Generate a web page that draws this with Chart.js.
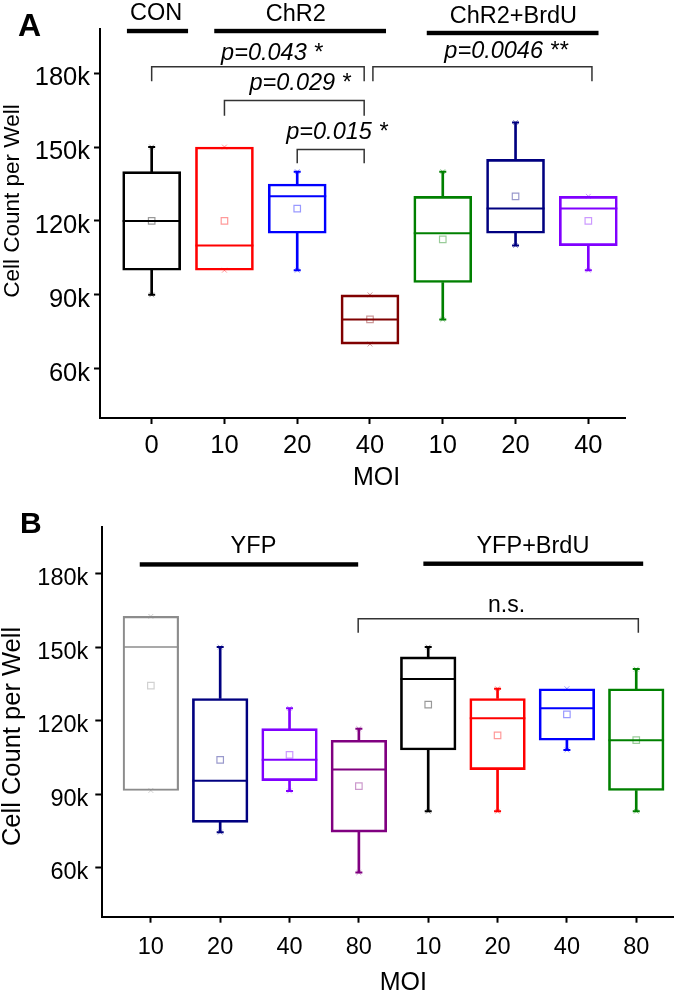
<!DOCTYPE html>
<html><head><meta charset="utf-8">
<script src="https://cdn.jsdelivr.net/npm/chart.js@4/dist/chart.umd.min.js"></script>
<style>
html,body{margin:0;padding:0;background:#fff;}
#wrap{position:relative;width:675px;height:993px;overflow:hidden;background:#fff;}
canvas{position:absolute;left:0;display:block;}
#cA{top:0;} #cB{top:495px;}
</style></head><body>
<div id="wrap"><canvas id="cA" width="675" height="495"></canvas><canvas id="cB" width="675" height="498"></canvas></div>
<script>
// ---------- Panel A data (cell count per well, thousands) ----------
const catsA   = ['0','10','20','40','10','20','40'];
const minA    = [90, 100, 100, 70, 80, 110, 100];
const q1A     = [100, 100, 115, 70, 95, 115, 110];
const medA    = [120, 110, 130, 80, 115, 125, 125];
const q3A     = [140, 150, 135, 90, 130, 145, 130];
const maxA    = [150, 150, 140, 90, 140, 160, 130];
const meanA   = [120, 120, 125, 80, 112.5, 130, 120];
const colorsA = ['#000000','#ff0000','#0000ff','#800000','#008000','#000080','#8000ff'];
const lineWA  = [2, 2, 2, 2, 2, 2, 2];

// ---------- Panel B data ----------
const catsB   = ['10','20','40','80','10','20','40','80'];
const minB    = [91.5, 74.5, 91.3, 58, 83, 83, 108, 83];
const q1B     = [91.5, 78.5, 95.5, 74.5, 108, 100, 112, 91.5];
const medB    = [150, 95.5, 104, 100, 137, 121, 125, 112];
const q3B     = [162.5, 129, 116.7, 112, 146, 129, 133, 133];
const maxB    = [162.5, 150, 125, 116.7, 150, 133, 133, 141];
const meanB   = [134.3, 104, 106, 93.3, 126.5, 114, 122.5, 112];
const colorsB = ['#8c8c8c','#000080','#8000ff','#800080','#000000','#ff0000','#0000ff','#008000'];
const lineWB  = [1.5, 2, 2, 2, 2, 2, 2, 2];

const yTicks = [60, 90, 120, 150, 180];
const yTickLabels = ['60k','90k','120k','150k','180k'];

// ---------- Annotations (group headers, significance brackets) ----------
const groupLabelsA = ['CON','ChR2','ChR2+BrdU'];
const groupTextXA  = [0.06, 1.98, 4.97];
const groupTextYA  = [201.5, 201.3, 200.2];
const groupBarFromA = [-0.34, 0.86, 3.78];
const groupBarToA   = [0.50, 3.22, 6.14];
const groupBarYA    = [197.1, 197.1, 196.3];
const pTextA   = ['p=0.043 *','p=0.029 *','p=0.015 *','p=0.0046 **'];
const pTextXA  = [1.65, 2.04, 2.545, 4.87];
const pTextYA  = [185.3, 173.1, 153.4, 186.0];
const brFromA  = [0, 1, 2, 3.04];
const brToA    = [2.92, 2.92, 2.92, 6.05];
const brTopA   = [182.6, 168.9, 149.0, 182.6];
const brLegA   = [176.7, 162.7, 143.4, 176.7];

const groupLabelsB = ['YFP','YFP+BrdU'];
const groupTextXB  = [1.48, 5.51];
const groupTextYB  = [188.5, 188.3];
const groupBarFromB = [-0.16, 3.93];
const groupBarToB   = [2.99, 7.10];
const groupBarYB    = [183.7, 184.0];
const pTextB  = ['n.s.'];
const pTextXB = [5.13];
const pTextYB = [164.5];
const brFromB = [2.99];
const brToB   = [7.03];
const brTopB  = [161.5];
const brLegB  = [155.8];

const FF = "'Liberation Sans', Arial, Helvetica, sans-serif";

function hexA(h, a){
  const n = parseInt(h.slice(1),16);
  return `rgba(${(n>>16)&255},${(n>>8)&255},${n&255},${a})`;
}

function boxDatasets(mins,q1s,meds,q3s,maxs,means,colors,lineW,boxW){
  const idx = mins.map((_,i)=>i);
  const light = colors.map(c=>hexA(c,0.4));
  const upI = idx.filter(i=>maxs[i]>q3s[i]);
  const loI = idx.filter(i=>mins[i]<q1s[i]);
  return [
    {type:'bar', data: idx.map(i=>({x:i,y:[q1s[i],q3s[i]]})), backgroundColor:'rgba(0,0,0,0)',
     borderColor: colors, borderWidth: lineW, borderSkipped:false, barThickness:boxW, grouped:false, order:1},
    {type:'bar', data: upI.map(i=>({x:i,y:[q3s[i],maxs[i]]})), backgroundColor: upI.map(i=>colors[i]),
     borderWidth:0, barThickness:2, grouped:false, order:2},
    {type:'bar', data: loI.map(i=>({x:i,y:[mins[i],q1s[i]]})), backgroundColor: loI.map(i=>colors[i]),
     borderWidth:0, barThickness:2, grouped:false, order:2},
    {type:'scatter', data: idx.map(i=>({x:i,y:meds[i]})), pointStyle:'line', pointRadius:boxW/2,
     pointBorderColor: colors, pointBorderWidth: lineW, pointBackgroundColor:'rgba(0,0,0,0)', order:0},
    {type:'scatter', data: upI.map(i=>({x:i,y:maxs[i]})).concat(loI.map(i=>({x:i,y:mins[i]}))),
     pointStyle:'line', pointRadius:3.5, pointBorderColor: upI.map(i=>colors[i]).concat(loI.map(i=>colors[i])),
     pointBorderWidth:2, order:0},
    {type:'scatter', data: idx.map(i=>({x:i,y:means[i]})), pointStyle:'rect', pointRadius:4.6,
     pointBorderColor: light, pointBackgroundColor:'rgba(0,0,0,0)', pointBorderWidth:1.2, order:0},
    {type:'scatter', data: idx.map(i=>({x:i,y:maxs[i]})).concat(idx.map(i=>({x:i,y:mins[i]}))),
     pointStyle:'crossRot', pointRadius:3.4, pointBorderColor: light.concat(light),
     pointBackgroundColor:'rgba(0,0,0,0)', pointBorderWidth:1, order:0}
  ];
}

function annotPlugin(c){
  return {
    id:'annot'+c.letter,
    afterDraw(chart){
      const {ctx, scales:{x,y}, chartArea} = chart;
      ctx.save();
      ctx.fillStyle = '#000';
      // panel letter
      ctx.font = `bold ${c.letterSize}px ${FF}`;
      ctx.textAlign = 'left'; ctx.textBaseline = 'alphabetic';
      ctx.fillText(c.letter, c.letterX, c.letterY);
      // group headers
      ctx.font = `${c.headSize}px ${FF}`; ctx.textAlign = 'center';
      c.groupLabels.forEach((t,i)=>{
        ctx.fillText(t, x.getPixelForValue(c.groupTextX[i]), y.getPixelForValue(c.groupTextY[i]));
        ctx.fillRect(x.getPixelForValue(c.groupBarFrom[i]), y.getPixelForValue(c.groupBarY[i]) - c.barH/2,
                     x.getPixelForValue(c.groupBarTo[i]) - x.getPixelForValue(c.groupBarFrom[i]), c.barH);
      });
      // brackets
      ctx.strokeStyle = '#333'; ctx.lineWidth = 1.5;
      c.brFrom.forEach((f,i)=>{
        const x1 = x.getPixelForValue(f), x2 = x.getPixelForValue(c.brTo[i]);
        const yt = y.getPixelForValue(c.brTop[i]), yb = y.getPixelForValue(c.brLeg[i]);
        ctx.beginPath(); ctx.moveTo(x1,yb); ctx.lineTo(x1,yt); ctx.lineTo(x2,yt); ctx.lineTo(x2,yb); ctx.stroke();
      });
      ctx.font = `${c.pItalic?'italic ':''}${c.pSize}px ${FF}`;
      c.pText.forEach((t,i)=>{
        ctx.fillText(t, x.getPixelForValue(c.pTextX[i]), y.getPixelForValue(c.pTextY[i]));
      });
      // x axis title
      ctx.font = `${c.xTitleSize}px ${FF}`;
      ctx.fillText('MOI', x.getPixelForValue(c.xTitleX), chartArea.bottom + c.xTitleDy);
      // y axis title
      ctx.save();
      ctx.translate(c.yTitleX, c.yTitleY); ctx.rotate(-Math.PI/2);
      ctx.font = `${c.yTitleSize}px ${FF}`;
      ctx.fillText('Cell Count per Well', 0, 0);
      ctx.restore();
      ctx.restore();
    }
  };
}

function makeChart(id, cats, ds, xMin, xMax, yMax, pad, yW, xH, yTick, xTick, annot){
  return new Chart(document.getElementById(id), {
    type:'bar',
    data:{ datasets: ds },
    options:{
      responsive:false, animation:false, devicePixelRatio:1, events:[],
      layout:{ padding: pad, autoPadding:false },
      plugins:{ legend:{display:false}, tooltip:{enabled:false} },
      scales:{
        x:{ type:'linear', min:xMin, max:xMax, offset:false,
            afterBuildTicks: s => { s.ticks = cats.map((_,i)=>({value:i})); },
            afterFit: s => { s.height = xH; },
            ticks:{ callback: v => cats[Math.round(v)], autoSkip:false, maxRotation:0, minRotation:0,
                    color:'#000', font:{family:FF, size:xTick.size}, padding:xTick.pad },
            grid:{ display:true, offset:false, drawOnChartArea:false, drawTicks:true, tickLength:6, tickWidth:2, tickColor:'#000' },
            border:{ display:true, color:'#000', width:2 } },
        y:{ type:'linear', min:40, max:yMax, beginAtZero:false,
            afterBuildTicks: s => { s.ticks = yTicks.map(v=>({value:v})); },
            afterFit: s => { s.width = yW; },
            ticks:{ callback: v => yTickLabels[yTicks.indexOf(v)], autoSkip:false,
                    color:'#000', font:{family:FF, size:yTick.size}, padding:yTick.pad, labelOffset:yTick.off },
            grid:{ display:true, drawOnChartArea:false, drawTicks:true, tickLength:yTick.len, tickWidth:2, tickColor:'#000' },
            border:{ display:true, color:'#000', width:2 } }
      }
    },
    plugins:[annotPlugin(annot)]
  });
}

makeChart('cA', catsA, boxDatasets(minA,q1A,medA,q3A,maxA,meanA,colorsA,lineWA,58),
  -0.71, 6.504, 197.8, {left:0, right:50, top:29.3, bottom:0}, 100, 77,
  {size:25.5, pad:4, off:5, len:6}, {size:25.5, pad:7},
  {letter:'A', letterSize:32, letterX:18, letterY:36, headSize:23.5, barH:4.4,
   groupLabels:groupLabelsA, groupTextX:groupTextXA, groupTextY:groupTextYA,
   groupBarFrom:groupBarFromA, groupBarTo:groupBarToA, groupBarY:groupBarYA,
   brFrom:brFromA, brTo:brToA, brTop:brTopA, brLeg:brLegA,
   pText:pTextA, pTextX:pTextXA, pTextY:pTextYA, pItalic:true, pSize:23.5,
   xTitleSize:25, xTitleX:3.09, xTitleDy:67, yTitleX:19, yTitleY:201, yTitleSize:22.5});

makeChart('cB', catsB, boxDatasets(minB,q1B,medB,q3B,maxB,meanB,colorsB,lineWB,55.6),
  -0.70, 7.53, 199.1, {left:0, right:2, top:31.7, bottom:0}, 102.3, 76.3,
  {size:23.5, pad:7, off:5, len:7}, {size:23.5, pad:11},
  {letter:'B', letterSize:30, letterX:20, letterY:38.3, headSize:23.5, barH:4.4,
   groupLabels:groupLabelsB, groupTextX:groupTextXB, groupTextY:groupTextYB,
   groupBarFrom:groupBarFromB, groupBarTo:groupBarToB, groupBarY:groupBarYB,
   brFrom:brFromB, brTo:brToB, brTop:brTopB, brLeg:brLegB,
   pText:pTextB, pTextX:pTextXB, pTextY:pTextYB, pItalic:false, pSize:23,
   xTitleSize:25, xTitleX:3.64, xTitleDy:73.3, yTitleX:20, yTitleY:241.5, yTitleSize:25.5});
</script>
</body></html>
